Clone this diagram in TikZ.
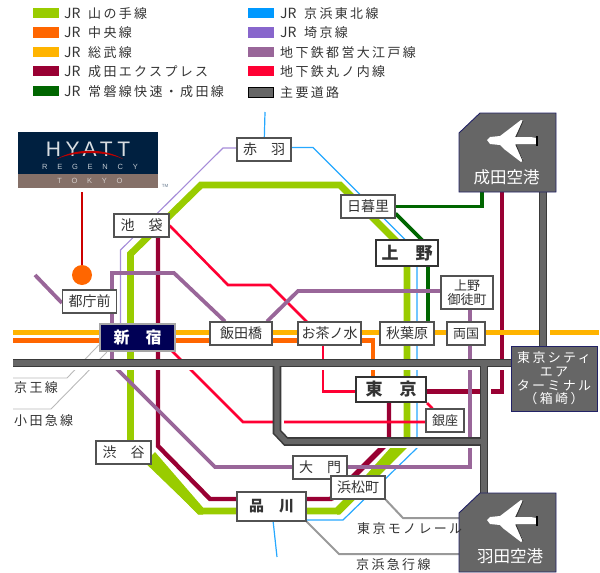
\documentclass[tikz,border=0pt]{standalone}
\usepackage{fontspec}
\setmainfont{Noto Sans CJK JP}
\newfontfamily\jpls[LetterSpace=18]{Noto Sans CJK JP}
\newfontfamily\jpn{Noto Sans CJK JP}
\newfontfamily\logofont{Liberation Sans}
\newfontfamily\logows[LetterSpace=22]{Liberation Sans}
\newfontfamily\logosm[LetterSpace=130]{Liberation Sans}
\newcommand{\jrmark}{\makebox[24pt][l]{\fontsize{14}{15}\selectfont\jpn JR}}
\usetikzlibrary{calc}
\definecolor{yama}{HTML}{99CC00}
\definecolor{chuo}{HTML}{FF6600}
\definecolor{sobu}{HTML}{FFB400}
\definecolor{narex}{HTML}{990033}
\definecolor{joban}{HTML}{006600}
\definecolor{keihin}{HTML}{0099FF}
\definecolor{saikyo}{HTML}{8866CC}
\definecolor{oedo}{HTML}{996699}
\definecolor{maru}{HTML}{FF0033}
\definecolor{roadin}{HTML}{666666}
\definecolor{roadout}{HTML}{3A3A3A}
\definecolor{ink}{HTML}{333333}
\definecolor{navyb}{HTML}{000055}
\definecolor{logobg}{HTML}{002040}
\definecolor{logobr}{HTML}{857068}
\definecolor{airedge}{HTML}{222266}
\pgfdeclarelayer{lines}
\pgfdeclarelayer{roads}
\pgfsetlayers{lines,roads,main}
\tikzset{
  stnbox/.style={draw=ink!85,fill=white,line width=1.1pt,inner sep=0pt,text=ink,font=\fontsize{14}{15}\selectfont},
  bigbox/.style={draw=ink,fill=white,line width=2.2pt,inner sep=0pt,text=ink,font=\fontsize{17}{18}\selectfont\bfseries},
  legtext/.style={anchor=west,inner sep=0pt,text=ink,font=\fontsize{13}{15}\selectfont\jpls},
  airbox/.style={draw=airedge,fill=roadin,line width=0.9pt},
  airtext/.style={inner sep=0pt,text=white,font=\fontsize{16.5}{18}\selectfont},
  plain/.style={inner sep=0pt,text=ink,font=\fontsize{13}{15}\selectfont\jpls},
  wire/.style={line join=miter},
  side/.style={draw=gray!55,line width=0.9pt},
  hway/.style={draw=gray!80,line width=2pt}
}
\newcommand{\planeAt}[2]{%
  \begin{scope}[shift={(#1,#2)}]
    \fill[white] (-25,-1) -- (-22,-4) -- (-12,-5) -- (-8,-8) -- (9,-21) -- (11,-20) -- (3,-4) -- (19,-4) -- (24,-3) -- (25,0) -- (24,3) -- (19,3) -- (3,3) -- (11,19) -- (9,21) -- (-8,8) -- (-12,4) -- (-22,3) -- cycle;
    \draw[black!80,line width=0.8pt] (11,-20) -- (4,-4);
    \draw[black!80,line width=0.8pt] (11,20) -- (4,4);
    \draw[black,line width=1.6pt] (25,-5) -- (25,5);
  \end{scope}}
\begin{document}
\begin{tikzpicture}[x=1pt,y=-1pt]
\useasboundingbox (0,0) rectangle (600,573);
% legend
\foreach \n/\c/\a/\b/\t in {1/yama/8/18/{\jrmark 山の手線},2/chuo/27/38/{\jrmark 中央線},3/sobu/47/57/{\jrmark 総武線},4/narex/66/76/{\jrmark 成田エクスプレス},5/joban/86/96/{\jrmark 常磐線快速・成田線}}{
  \fill[\c] (33,\a) rectangle (59,\b);
  \node[legtext] (legL\n) at (64,{(\a+\b)/2+0.5}) {\t};
}
\foreach \n/\c/\a/\b/\t in {1/keihin/8/18/{\jrmark 京浜東北線},2/saikyo/27/38/{\jrmark 埼京線},3/oedo/47/57/{地下鉄都営大江戸線},4/maru/66/76/{地下鉄丸ノ内線}}{
  \fill[\c] (248,\a) rectangle (274,\b);
  \node[legtext] (legR\n) at (280,{(\a+\b)/2+0.5}) {\t};
}
\filldraw[fill=roadin,draw=black,line width=1pt] (248.5,87.5) rectangle (273.5,97.5);
\node[legtext] (legR5) at (280,92.5) {主要道路};
% logo
\node[fill=logobg,minimum width=140pt,minimum height=42pt,inner sep=0pt] (logo) at (88,153) {};
\node[fill=logobr,minimum width=140pt,minimum height=14pt,inner sep=0pt] (logob) at (88,181) {};
\node[inner sep=0pt,text=white!85!logobg,font=\fontsize{21}{22}\selectfont\logows] (hy) at (88,149) {HYATT};
\fill[red!75!black] (57,159) .. controls (75,148) and (105,148) .. (123,159) .. controls (105,151) and (75,151) .. cycle;
\node[inner sep=0pt,text=white!75!logobg,font=\fontsize{7.5}{8}\selectfont\logosm] (rg) at (90,167) {REGENCY};
\node[inner sep=0pt,text=white!65!logobr,font=\fontsize{7.5}{8}\selectfont\logosm] (tk) at (90,181) {TOKYO};
\node[inner sep=0pt,text=logobg!60,font=\fontsize{4.5}{5}\selectfont\logofont] (tm) at (165,186) {TM};
\node[circle,fill=chuo,minimum size=20pt,inner sep=0pt] (hotel) at (82,275) {};
% stations
\node[stnbox,minimum width=54pt,minimum height=23pt] (akabane) at (264,149.5) {赤　羽};
\node[stnbox,minimum width=55pt,minimum height=23pt] (ikebukuro) at (141.5,225.5) {池　袋};
\node[stnbox,minimum width=54pt,minimum height=23pt] (tochomae) at (89.5,301.5) {都庁前};
\node[stnbox,minimum width=54pt,minimum height=23pt] (nippori) at (368,206.5) {日暮里};
\node[bigbox,minimum width=62pt,minimum height=26pt] (ueno) at (407,253) {上　野};
\node[stnbox,minimum width=52pt,minimum height=33pt,align=center,font=\fontsize{13}{14}\selectfont] (okachi) at (467,292.5) {上野\\御徒町};
\node[draw=gray!70,fill=navyb,line width=2.4pt,inner sep=0pt,text=white,minimum width=75pt,minimum height=27pt,font=\fontsize{16}{17}\selectfont\bfseries] (shinjuku) at (137.5,337.5) {新　宿};
\node[stnbox,minimum width=62pt,minimum height=23pt] (iidabashi) at (241,333.5) {飯田橋};
\node[stnbox,minimum width=63pt,minimum height=23pt] (ochanomizu) at (329.5,333.5) {お茶ノ水};
\node[stnbox,minimum width=54pt,minimum height=23pt] (akihabara) at (407,333.5) {秋葉原};
\node[stnbox,minimum width=38pt,minimum height=23pt,font=\fontsize{13}{14}\selectfont] (ryogoku) at (466,333.5) {両国};
\node[bigbox,minimum width=70pt,minimum height=25pt] (tokyo) at (391,389.5) {東　京};
\node[stnbox,minimum width=38pt,minimum height=23pt,font=\fontsize{13}{14}\selectfont] (ginza) at (445,420.5) {銀座};
\node[stnbox,minimum width=55pt,minimum height=23pt] (shibuya) at (123.5,452.5) {渋　谷};
\node[stnbox,minimum width=54pt,minimum height=23pt] (daimon) at (320,467.5) {大　門};
\node[stnbox,minimum width=54pt,minimum height=23pt] (hamamatsucho) at (358,487.5) {浜松町};
\node[stnbox,minimum width=69pt,minimum height=29pt,font=\fontsize{15}{16}\selectfont\bfseries] (shinagawa) at (271.5,506.5) {品　川};
% airports and terminal
\filldraw[airbox] (480,113) -- (459,133) -- (459,192) -- (556,192) -- (556,113) -- cycle;
\coordinate (narS) at (507.5,192);
\planeAt{512}{141}
\node[airtext] (narita) at (506.5,177) {成田空港};
\filldraw[airbox] (480,493) -- (459,513) -- (459,572) -- (556,572) -- (556,493) -- cycle;
\coordinate (hanN) at (484,493);
\coordinate (hanA) at (460,518);
\coordinate (hanB) at (460,554);
\planeAt{512}{521}
\node[airtext] (haneda) at (510,556) {羽田空港};
\node[draw=airedge,fill=roadin,line width=0.9pt,minimum width=86pt,minimum height=65pt,inner sep=0pt,align=center,text=white,font=\fontsize{13}{13.7}\selectfont\jpls] (tcat) at (554,378.5) {東京シティ\\エア\\ターミナル\\（箱崎）};
% plain labels
\node[plain,anchor=west] (keioL) at (14,388) {京王線};
\node[plain,anchor=west] (odaL) at (14,421) {小田急線};
\node[plain,anchor=west] (monoL) at (357,529) {東京モノレール};
\node[plain,anchor=west] (keikyuL) at (356,565) {京浜急行線};
% free ends
\coordinate (keihinN) at (265,112);
\coordinate (keihinS) at (277,557);
\coordinate (railW1) at (13,332.5);
\coordinate (railE1) at (599,332.5);
\coordinate (railW2) at (13,340.5);
\coordinate (oedoEnd) at (35,275);
\coordinate (keioEnd) at (13,378);
\coordinate (odaEnd) at (13,409);
\begin{pgfonlayer}{lines}
  \draw[red!80!black,line width=2.6pt] ([xshift=-6pt,yshift=-4pt]logob.south) -- (hotel);
  % side lines
  \draw[side] ([yshift=-7.5pt]shinjuku.west) -- (67,378) -- (keioEnd);
  \draw[side] ([xshift=8pt]shinjuku.south west) -- (51,409) -- (odaEnd);
  \draw[hway] (hamamatsucho.south east) -- (403,518) -- (hanA);
  \draw[hway] (shinagawa.south east) -- (339,554) -- (hanB);
  % Saikyo
  \draw[saikyo!75,line width=1.1pt] ([yshift=1.5pt]akabane.center) -- (223,148) -- (120.5,250) -- (120.5,325);
  % Keihin-Tohoku
  \draw[keihin!85,line width=1.2pt] ([yshift=2pt]akabane.center) -- (313,147.5) -- (417,251.5) -- (417,448) -- (343,520) -- ([yshift=-13.5pt]shinagawa.center);
  \draw[keihin!85,line width=1.2pt] (keihinN) -- (akabane);
  \draw[keihin!85,line width=1.2pt] (shinagawa) -- (keihinS);
  % Yamanote
  \draw[yama,line width=6.8pt,wire] ([yshift=-4.5pt]shinagawa.center) -- (200,511) -- (130.5,444) -- (130.5,254) -- (201,185) -- (340,185) -- (407,252) -- (407,441) -- (337,511) -- ([yshift=-4.5pt]shinagawa.center);
  \fill[yama] (392,446) -- (409,446) -- (340,514.5) -- (337,514.5) -- (337,507.5) -- cycle;
  \fill[yama] (146,461) -- (155,452) -- (203,507.5) -- (203,514.5) -- (198,514.5) -- cycle;
  % Chuo
  \draw[chuo,line width=4.8pt,wire] (railW2) -- (373,340.5) -- ([xshift=-18pt]tokyo.north);
  % Joban
  \draw[joban,line width=3.8pt,wire] (nippori.east) -- (481.7,206.5) -- ([xshift=-25.8pt]narS);
  \draw[joban,line width=3.8pt,wire] ([yshift=-7pt]nippori.east) -- (428,246) -- ([xshift=21pt]akihabara.north);
  % Narita Express
  \draw[narex,line width=4.4pt,wire] ([xshift=16.5pt]ikebukuro.south) -- (158,446) -- (210,499) -- ([yshift=7.5pt]shinagawa.center) -- (331,499) -- (382,448);
  \draw[narex,line width=5.5pt,wire] (331.5,498.5) -- (383,447) -- (387,443);
  \draw[narex,line width=4.4pt,wire] (387,443) -- (389,438) -- ([xshift=-2pt]tokyo.south);
  \draw[narex,line width=4.4pt,wire] ([yshift=-2pt]tokyo.east) -- (502,391.5) -- ([xshift=-5.5pt]narS);
  % Sobu
  \draw[sobu,line width=5pt] (railW1) -- (railE1);
  % Marunouchi
  \draw[maru,line width=2.6pt,wire] (ikebukuro.east) -- (228,285) -- (270,285) -- (307,322);
  \draw[maru,line width=2.6pt,wire] ([xshift=-6.5pt]ochanomizu.south) -- (323,391.5) -- ([yshift=-2pt]tokyo.west);
  \draw[maru,line width=2.6pt] (tokyo.south east) -- ([xshift=7pt]ginza.north west);
  \draw[maru,line width=2.6pt,wire] ([yshift=-1.5pt]ginza.west) -- (243,422) -- (172,351);
  % Oedo
  \draw[oedo,line width=3.8pt,wire] (oedoEnd) -- ([yshift=-1.5pt]tochomae.west);
  \draw[oedo,line width=3.8pt,wire] ([xshift=22.5pt]tochomae.north) -- (112,273) -- (174,273) -- ([xshift=-16pt]iidabashi.north);
  \draw[oedo,line width=3.8pt,wire] ([xshift=26pt]iidabashi.north) -- (298,291) -- ([yshift=1.5pt]okachi.west);
  \draw[oedo,line width=3.8pt] ([xshift=3pt]okachi.south) -- ([xshift=4pt]ryogoku.north);
  \draw[oedo,line width=3.8pt,wire] ([xshift=4pt]ryogoku.south) -- (470,467) -- (215,467) -- (116,368) -- (112,359) -- ([xshift=-25.5pt]shinjuku.south);
  \draw[oedo,line width=3.8pt] ([xshift=22.5pt]tochomae.south) -- ([xshift=-25.5pt]shinjuku.north);
\end{pgfonlayer}
\begin{pgfonlayer}{roads}
  % white relief on the lower and right side of the roads
  \fill[white] (13,367) rectangle (511,370);
  \fill[white] (285,445) rectangle (484,448);
  \fill[white] (281,367) rectangle (284,441);
  \fill[white] (488,367) rectangle (491,500);
  \fill[white] (547,329) rectangle (549.5,336);
  \coordinate (roadW) at (13,363);
  \foreach \wd/\col in {8.6/roadout,5.4/roadin}{
    \draw[\col,line width=\wd pt,line join=miter] (roadW) -- ([yshift=15.5pt]tcat.west);
    \draw[\col,line width=\wd pt,line join=miter] (277,363) -- (277,432) -- (286,441.5) -- (484,441.5);
    \draw[\col,line width=\wd pt] (484,363) -- (hanN);
    \draw[\col,line width=\wd pt] ([xshift=35.5pt]narS) -- ([xshift=-11pt]tcat.north);
  }
\end{pgfonlayer}
\end{tikzpicture}
\end{document}
